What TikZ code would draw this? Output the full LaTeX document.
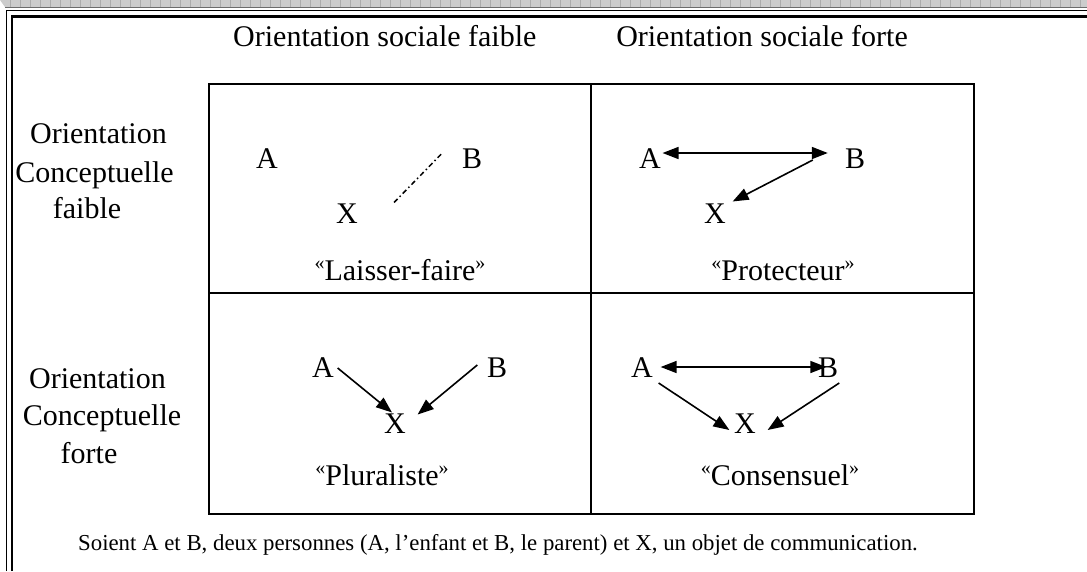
\documentclass[tikz,border=0pt]{standalone}
\usepackage{fontspec}
\setmainfont{Liberation Serif}
\usetikzlibrary{arrows.meta}
\newcommand\oqt{\raisebox{11pt}{\fontsize{20}{20}\selectfont «}}
\newcommand\cqt{\raisebox{11pt}{\fontsize{20}{20}\selectfont »}}
\begin{document}
\begin{tikzpicture}[x=1pt,y=-1pt,
  txt/.style={font=\fontsize{30}{34}\selectfont, inner sep=0pt, anchor=base},
  ltr/.style={font=\fontsize{30}{34}\selectfont, inner sep=0pt},
  cell/.style={draw, line width=2pt},
  arr/.style={line width=1.6pt, -{Triangle[length=16pt,width=12pt]}},
  darr/.style={line width=1.6pt, {Triangle[length=16pt,width=12pt]}-{Triangle[length=16pt,width=12pt]}},
  dd/.style={line width=1.5pt, dash pattern=on 5pt off 3pt on 1.5pt off 3pt}
]
\useasboundingbox (0,0) rectangle (1087,571);
% top strip
\fill[gray!40] (0,0) -- (1087,0) -- (1087,7) -- (5,7) -- cycle;
\foreach \x in {10,20,...,1080} \draw[gray!65, line width=0.7pt] (\x,0) -- (\x,7);
\draw[gray!85!black, line width=1pt] (5,7) -- (1087,7);
% frame
\draw[line width=1.3pt] (6.5,571) -- (6.5,10.5) -- (1087,10.5);
\draw[line width=2.5pt] (12,571) -- (12,16.5) -- (1087,16.5);
% table
\draw[cell] (209,84) rectangle (974,514);
\draw[cell] (591,84) -- (591,514);
\draw[cell] (209,293) -- (974,293);
% headers
\node[txt, anchor=base west] (h1) at (233,46.5) {Orientation sociale faible};
\node[txt, anchor=base east] (h2) at (908,46.5) {Orientation sociale forte};
% left labels
\node[txt] (l1a) at (98.5,143) {Orientation};
\node[txt] (l1b) at (94.5,182.5) {Conceptuelle};
\node[txt] (l1c) at (87,218) {faible};
\node[txt] (l2a) at (97.5,388) {Orientation};
\node[txt] (l2b) at (102,425.5) {Conceptuelle};
\node[txt] (l2c) at (89,463) {forte};
% cell 1
\node[ltr] (A1) at (267,158.5) {A};
\node[ltr] (B1) at (472,158.5) {B};
\node[ltr] (X1) at (347,213.5) {X};
\node[txt] (t1) at (400,280) {\oqt Laisser-faire\cqt};
\draw[dd] ([shift={(36,-11)}]X1.east) -- ([shift={(-20,-5)}]B1.west);
% cell 2
\node[ltr] (A2) at (650,158.5) {A};
\node[ltr] (B2) at (855,158.5) {B};
\node[ltr] (X2) at (715,213.5) {X};
\node[txt] (t2) at (783,280) {\oqt Protecteur\cqt};
\draw[darr] ([shift={(1.5,-5.5)}]A2.east) -- ([shift={(-17,-5.5)}]B2.west);
\draw[arr] ([shift={(-32,1.5)}]B2.west) -- ([shift={(6.6,-2)}]X2.north east);
% cell 3
\node[ltr] (A3) at (323,367.5) {A};
\node[ltr] (B3) at (497,367.5) {B};
\node[ltr] (X3) at (395,423.5) {X};
\node[txt] (t3) at (382,485) {\oqt Pluraliste\cqt};
\draw[arr] ([shift={(3.6,0.5)}]A3.east) -- ([shift={(-3,-1)}]X3.north);
\draw[arr] ([shift={(-9.5,-2.5)}]B3.west) -- ([shift={(11.6,1)}]X3.north east);
% cell 4
\node[ltr] (A4) at (642,367.5) {A};
\node[ltr] (B4) at (828,367.5) {B};
\node[ltr] (X4) at (745,423.5) {X};
\node[txt] (t4) at (780,485) {\oqt Consensuel\cqt};
\draw[darr] ([shift={(7.6,-0.5)}]A4.east) -- ([shift={(8.5,-0.5)}]B4.west);
\draw[arr] ([shift={(5.6,15.5)}]A4.east) -- ([shift={(-4.6,6.5)}]X4.west);
\draw[arr] ([shift={(21.5,15.5)}]B4.west) -- ([shift={(11.6,6.5)}]X4.east);
% caption
\node[txt, anchor=base west, font=\fontsize{22.8}{26}\selectfont] (cap) at (78,550) {Soient A et B, deux personnes (A, l’enfant et B, le parent) et X, un objet de communication.};
\end{tikzpicture}
\end{document}
